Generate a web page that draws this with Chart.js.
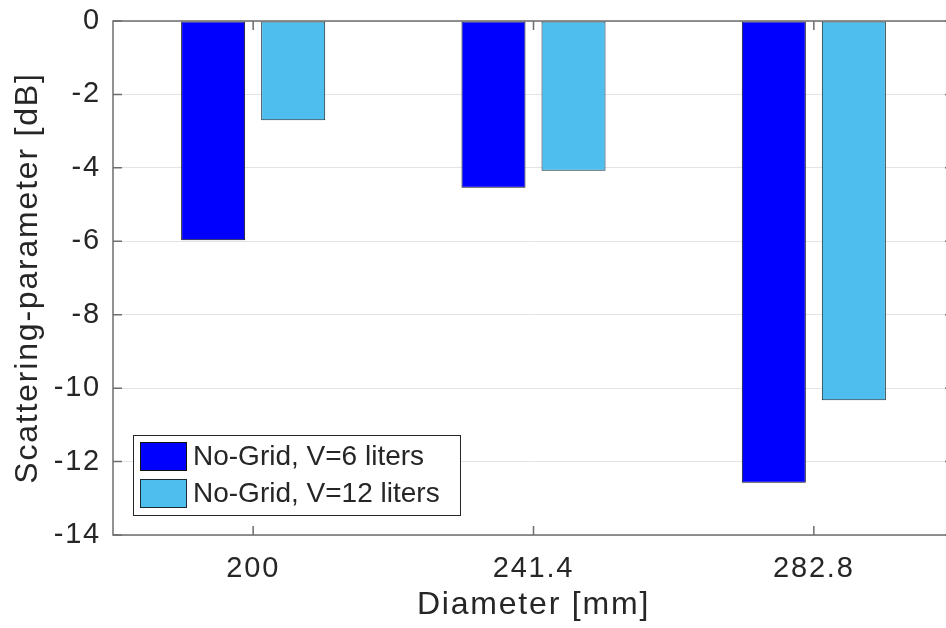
<!DOCTYPE html>
<html>
<head>
<meta charset="utf-8">
<title>Scattering-parameter vs Diameter</title>
<script src="https://cdn.jsdelivr.net/npm/chart.js@4.4.1/dist/chart.umd.min.js"></script>
<style>
  html, body { margin: 0; padding: 0; background: #fff; overflow: hidden; }
  /* the axes box runs a few pixels past the right edge of the picture */
  #wrap { width: 946px; height: 628px; overflow: hidden; }
</style>
</head>
<body>
<div id="wrap"><canvas id="chart" width="954" height="628"></canvas></div>
<script>
// data
var diameters = ['200', '241.4', '282.8'];
var sParam6L = [-5.97, -4.54, -12.58];
var sParam12L = [-2.7, -4.08, -10.33];
var yMin = -14, yMax = 0, yStep = 2;

var FONT = "'Liberation Sans', Arial, Helvetica, sans-serif";
var TEXT = '#262626';
var AXIS = '#6e6e6e';

// MATLAB's Helvetica runs a bit wider than Liberation Sans
var spacingPlugin = {
  id: 'spacing',
  beforeDraw: function (chart) { chart.ctx.letterSpacing = '1.8px'; }
};

// axes box + inward tick marks, MATLAB style
var boxPlugin = {
  id: 'box',
  afterDatasetsDraw: function (chart) {
    var ctx = chart.ctx, a = chart.chartArea;
    var xs = chart.scales.x, ys = chart.scales.y;
    var tl = 9;
    ctx.save();
    ctx.strokeStyle = AXIS;
    ctx.lineWidth = 1.5;
    ctx.strokeRect(a.left, a.top, a.right - a.left, a.bottom - a.top);
    ctx.beginPath();
    ys.ticks.forEach(function (t, i) {
      var y = ys.getPixelForTick(i);
      ctx.moveTo(a.left, y); ctx.lineTo(a.left + tl, y);
      ctx.moveTo(a.right, y); ctx.lineTo(a.right - tl, y);
    });
    xs.ticks.forEach(function (t, i) {
      var x = xs.getPixelForValue(i);
      ctx.moveTo(x, a.bottom); ctx.lineTo(x, a.bottom - tl);
      ctx.moveTo(x, a.top); ctx.lineTo(x, a.top + tl);
    });
    ctx.stroke();
    ctx.restore();
  }
};

// legend box in the lower left corner of the axes
var legendPlugin = {
  id: 'boxLegend',
  afterDraw: function (chart) {
    var ctx = chart.ctx, a = chart.chartArea;
    var x0 = a.left + 20, y0 = a.bottom - 100, w = 327, h = 80;
    ctx.letterSpacing = '0px';
    ctx.save();
    ctx.fillStyle = '#fff';
    ctx.fillRect(x0, y0, w, h);
    ctx.strokeStyle = TEXT;
    ctx.lineWidth = 1;
    ctx.strokeRect(x0 + 0.5, y0 + 0.5, w, h);
    ctx.font = '28px ' + FONT;
    ctx.textBaseline = 'middle';
    chart.data.datasets.forEach(function (ds, i) {
      var sy = y0 + 7 + i * 37;
      ctx.fillStyle = ds.backgroundColor;
      ctx.fillRect(x0 + 7, sy, 47, 29);
      ctx.strokeStyle = ds.borderColor;
      ctx.strokeRect(x0 + 7.5, sy + 0.5, 46, 28);
      ctx.fillStyle = TEXT;
      ctx.fillText(ds.label, x0 + 60, sy + 15);
    });
    ctx.restore();
  }
};

new Chart(document.getElementById('chart'), {
  type: 'bar',
  data: {
    labels: diameters,
    datasets: [
      {
        label: 'No-Grid, V=6 liters',
        data: sParam6L,
        backgroundColor: '#0000ff',
        borderColor: '#111111',
        borderWidth: 1,
        borderSkipped: false,
        categoryPercentage: 0.571,
        barPercentage: 0.8
      },
      {
        label: 'No-Grid, V=12 liters',
        data: sParam12L,
        backgroundColor: '#4dbeee',
        borderColor: '#1a2a33',
        borderWidth: 1,
        borderSkipped: false,
        categoryPercentage: 0.571,
        barPercentage: 0.8
      }
    ]
  },
  options: {
    responsive: false,
    animation: false,
    layout: { padding: { left: 0, top: 21, right: 0, bottom: 0 } },
    plugins: { legend: { display: false }, tooltip: { enabled: false } },
    scales: {
      x: {
        offset: true,
        grid: { display: false, drawTicks: false },
        border: { display: false },
        ticks: { color: TEXT, font: { family: FONT, size: 29 }, padding: 17, maxRotation: 0 },
        title: { display: true, text: 'Diameter [mm]', color: TEXT, font: { family: FONT, size: 32 }, padding: { top: 0, bottom: 4 } },
        afterFit: function (s) { s.height = 93; s.paddingLeft = 0; s.paddingRight = 0; }
      },
      y: {
        min: yMin,
        max: yMax,
        ticks: { stepSize: yStep, color: TEXT, font: { family: FONT, size: 29 }, padding: 12 },
        grid: { color: '#e3e3e3', lineWidth: 1, drawTicks: false },
        border: { display: false },
        title: { display: true, text: 'Scattering-parameter [dB]', color: TEXT, font: { family: FONT, size: 32 }, padding: { top: 9, bottom: 0 } },
        afterFit: function (s) { s.width = 113; s.paddingTop = 0; s.paddingBottom = 0; }
      }
    }
  },
  plugins: [spacingPlugin, boxPlugin, legendPlugin]
});
</script>
</body>
</html>
